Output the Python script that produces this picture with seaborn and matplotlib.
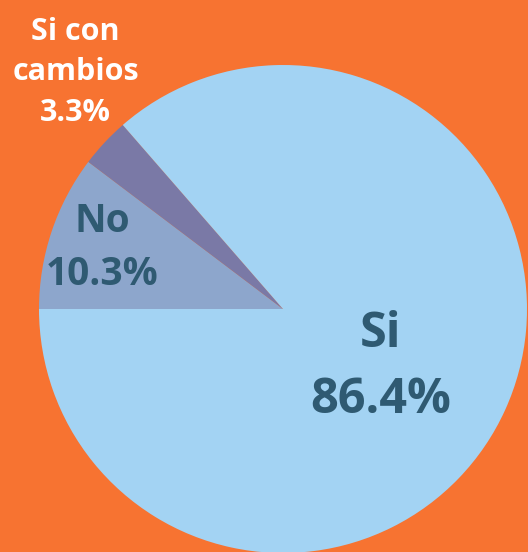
import matplotlib
matplotlib.use("Agg")
import matplotlib.pyplot as plt
import seaborn as sns

# Data
categorias = ["No", "Si con\ncambios", "Si"]
porcentajes = [10.3, 3.3, 86.4]
colores = ["#8DA6CC", "#7A79A6", "#A3D3F3"]

sns.set_theme(style="white")
plt.rcParams['font.family'] = ['Open Sans', 'DejaVu Sans']

fondo = "#F77331"
fig = plt.figure(figsize=(5.28, 5.52), dpi=100, facecolor=fondo)
ax = fig.add_axes([39/528, -1/552, 488/528, 488/552])
ax.set_facecolor(fondo)

ax.pie(porcentajes, colors=colores, startangle=180, counterclock=False,
       radius=1, wedgeprops=dict(linewidth=0))
ax.set_xlim(-1, 1)
ax.set_ylim(-1, 1)
ax.set_aspect("equal")
ax.axis("off")

# label positions / styles per slice
pos = [(-0.74, 0.25), (-0.85, 0.97), (0.40, -0.24)]
tam = [28, 22, 35]
col_txt = ["#2F5A72", "white", "#2F5A72"]
for cat, val, (x, y), s, c in zip(categorias, porcentajes, pos, tam, col_txt):
    ax.text(x, y, f"{cat}\n{val}%", ha="center", va="center", fontsize=s,
            fontweight="bold", color=c, linespacing=1.45, clip_on=False)

fig.savefig("out.png", dpi=100, facecolor=fondo)
